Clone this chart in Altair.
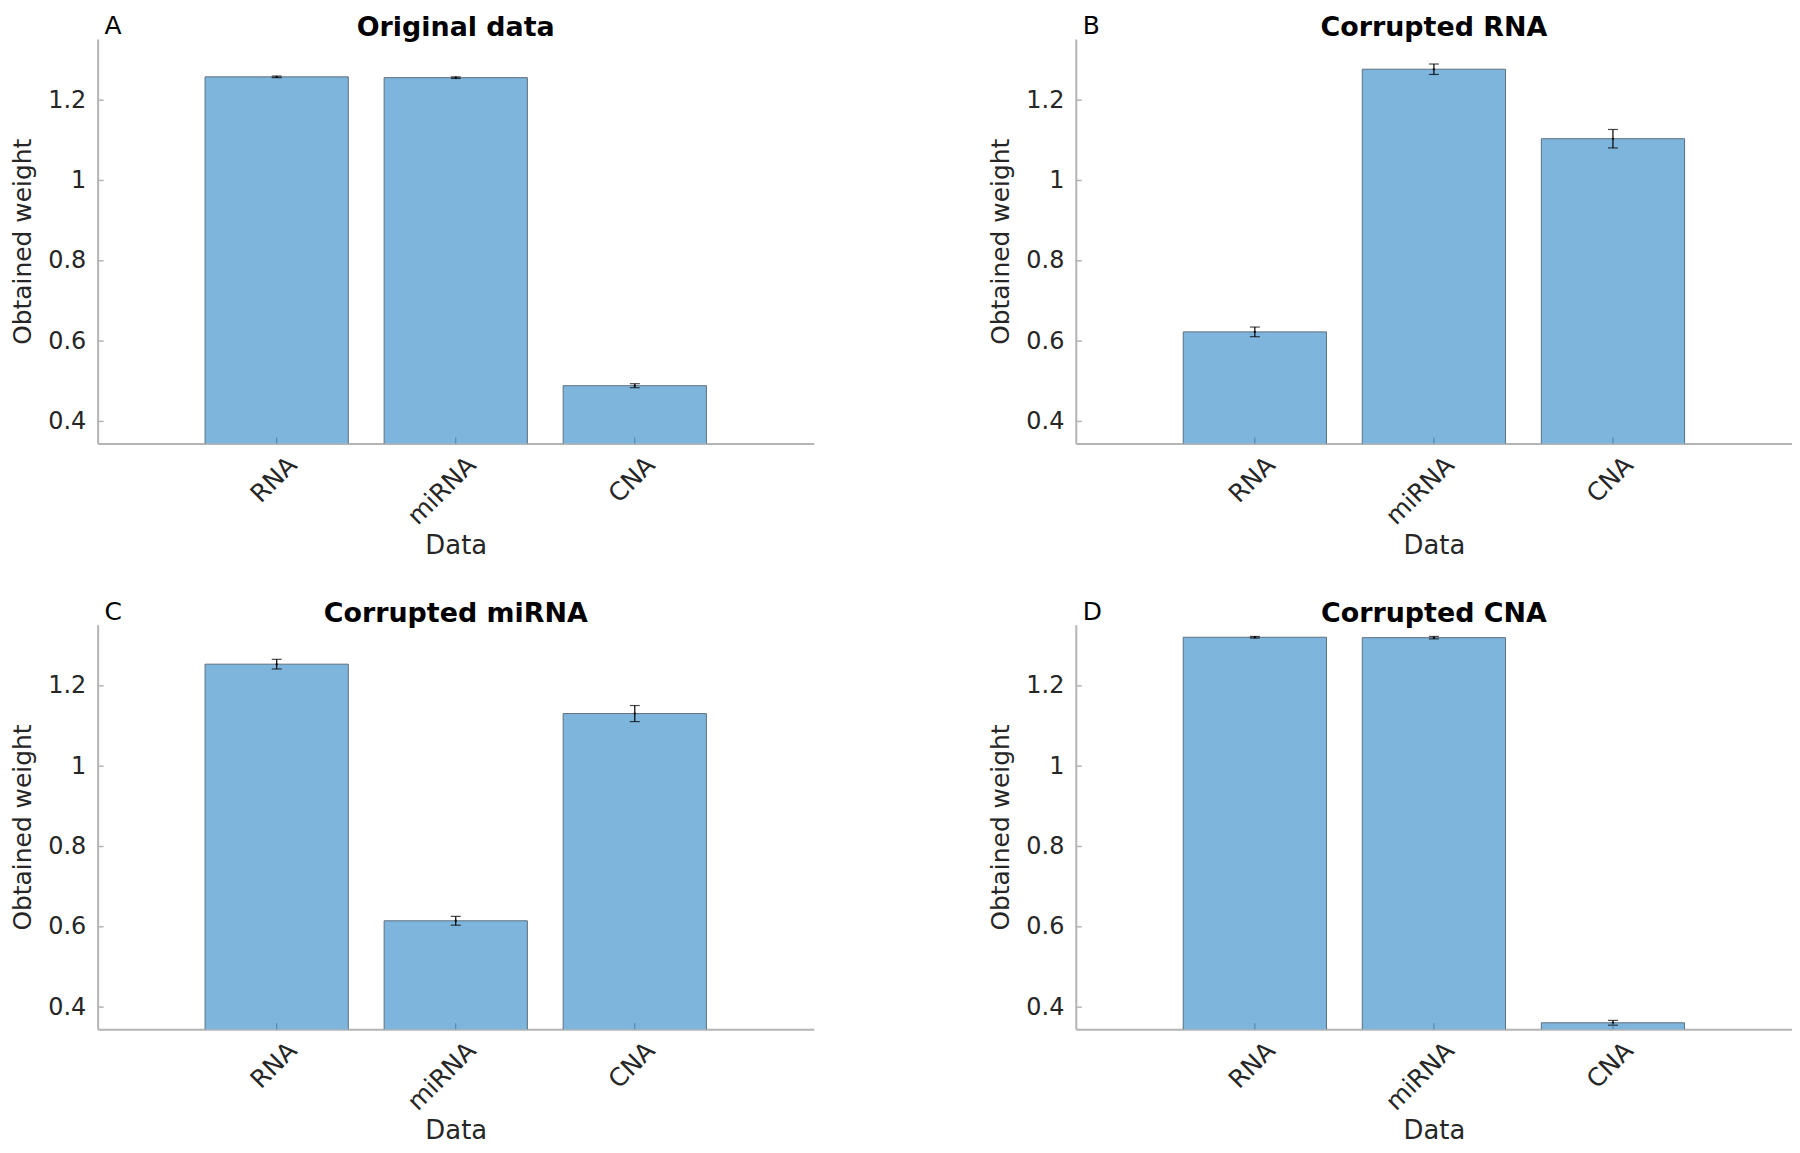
import altair as alt
import pandas as pd

categories = ["RNA", "miRNA", "CNA"]
titles = ["Original data", "Corrupted RNA", "Corrupted miRNA", "Corrupted CNA"]
letters = ["A", "B", "C", "D"]

values_a = [1.258, 1.256, 0.489]
errors_a = [0.002, 0.002, 0.005]
values_b = [0.623, 1.277, 1.104]
errors_b = [0.012, 0.013, 0.023]
values_c = [1.254, 0.615, 1.131]
errors_c = [0.012, 0.011, 0.020]
values_d = [1.321, 1.320, 0.361]
errors_d = [0.002, 0.003, 0.006]

y_ticks = [0.4, 0.6, 0.8, 1.0, 1.2]
y_domain = [0.345, 1.352]

W, H = 719, 406
FONT = "DejaVu Sans"
BAR = "#7EB5DC"
AXIS_GRAY = "#B4B4B4"
TXT = "#262626"

xscale = alt.Scale(domain=categories, paddingInner=0.2, paddingOuter=0.6)
yscale = alt.Scale(domain=y_domain, zero=False, nice=False)

xaxis = alt.Axis(title="Data", labelAngle=-45, labelAlign="right",
                 labelBaseline="middle", labelOffset=16, labelPadding=17,
                 ticks=False, labelFontSize=25, titleFontSize=26,
                 titleFontWeight="normal", titlePadding=3,
                 domainColor=AXIS_GRAY, domainWidth=2,
                 labelColor=TXT, titleColor=TXT, labelFont=FONT, titleFont=FONT)
yaxis = alt.Axis(title="Obtained weight", values=y_ticks, format="~f",
                 grid=False, ticks=False, labelPadding=12,
                 labelFontSize=24, titleFontSize=25,
                 titleFontWeight="normal", titlePadding=12,
                 domainColor=AXIS_GRAY, domainWidth=2,
                 labelColor=TXT, titleColor=TXT, labelFont=FONT, titleFont=FONT)


def X():
    return alt.X("cat:N", sort=categories, scale=xscale, axis=xaxis)


def panel(vals, errs, title, letter):
    df = pd.DataFrame({
        "cat": categories,
        "val": vals,
        "lo": [v - e for v, e in zip(vals, errs)],
        "hi": [v + e for v, e in zip(vals, errs)],
    })
    base = alt.Chart(df)
    bars = base.mark_bar(clip=True, stroke="#5C6F7E", strokeWidth=1, color=BAR).encode(
        x=X(),
        y=alt.Y("val:Q", scale=yscale, axis=yaxis),
    )
    err = base.mark_rule(color="black", strokeWidth=1.2).encode(
        x=X(),
        y=alt.Y("lo:Q", scale=yscale, axis=yaxis),
        y2="hi:Q",
    )
    cap_lo = base.mark_tick(color="black", size=10, thickness=1.2).encode(
        x=X(),
        y=alt.Y("lo:Q", scale=yscale, axis=yaxis),
    )
    cap_hi = base.mark_tick(color="black", size=10, thickness=1.2).encode(
        x=X(),
        y=alt.Y("hi:Q", scale=yscale, axis=yaxis),
    )
    dot = base.mark_point(color="black", filled=True, size=6).encode(
        x=X(),
        y=alt.Y("val:Q", scale=yscale, axis=yaxis),
    )
    xt = base.mark_rule(color="#4F7FA6", strokeWidth=1).encode(
        x=X(),
        y=alt.value(H),
        y2=alt.value(H - 6),
    )
    yt = alt.Chart(pd.DataFrame({"t": y_ticks})).mark_rule(color=AXIS_GRAY, strokeWidth=1.5).encode(
        y=alt.Y("t:Q", scale=yscale, axis=yaxis),
        x=alt.value(0),
        x2=alt.value(6),
    )
    lab = alt.Chart(pd.DataFrame({"l": [letter]})).mark_text(
        align="left", baseline="alphabetic", fontSize=25, color="black", font=FONT
    ).encode(text="l:N", x=alt.value(7), y=alt.value(-5))
    ttl = alt.Chart(pd.DataFrame({"l": [title]})).mark_text(
        align="center", baseline="alphabetic", fontSize=27, fontWeight="bold",
        color="black", font=FONT
    ).encode(text="l:N", x=alt.value(W / 2), y=alt.value(-3))
    return alt.layer(bars, err, cap_lo, cap_hi, dot, xt, yt, lab, ttl).properties(
        width=W, height=H,
    )


pa = panel(values_a, errors_a, titles[0], letters[0])
pb = panel(values_b, errors_b, titles[1], letters[1])
pc = panel(values_c, errors_c, titles[2], letters[2])
pd_ = panel(values_d, errors_d, titles[3], letters[3])

chart = alt.vconcat(
    alt.hconcat(pa, pb, spacing=175),
    alt.hconcat(pc, pd_, spacing=175),
    spacing=42,
).properties(
    padding={"top": 4, "left": 2, "right": 0, "bottom": 0}
).configure(font=FONT).configure_view(stroke=None)

chart.save("out.html", embed_options={"renderer": "svg", "actions": False})
